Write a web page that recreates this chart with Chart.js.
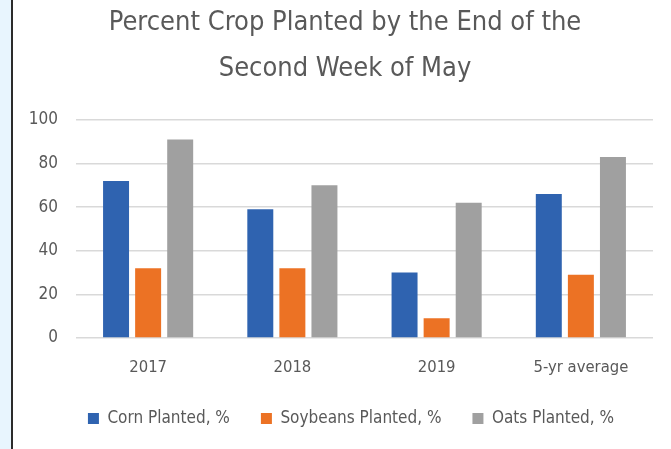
<!DOCTYPE html>
<html>
<head>
<meta charset="utf-8">
<script src="https://cdn.jsdelivr.net/npm/chart.js@4"></script>
<style>
  html, body { margin: 0; padding: 0; }
  body { width: 671px; height: 449px; overflow: hidden; background: #e8f5fe; position: relative; }
  .frame { position: absolute; left: 11px; top: 0; width: 660px; height: 449px; background: #fff; border-left: 2px solid #2b2b2b; box-sizing: border-box; }
  .frame canvas { position: absolute; left: 0; top: 0; }
</style>
</head>
<body>
<div class="frame"><canvas id="chart" width="658" height="449"></canvas></div>
<script>
const categories = ['2017', '2018', '2019', '5-yr average'];
const seriesNames = ['Corn Planted, %', 'Soybeans Planted, %', 'Oats Planted, %'];
const corn = [72, 59, 30, 66];
const soybeans = [32, 32, 9, 29];
const oats = [91, 70, 62, 83];
const yTicks = [0, 20, 40, 60, 80, 100];
const titleLines = ['Percent Crop Planted by the End of the', 'Second Week of May'];

// narrowest installed face, close to the Calibri look of the original
const font = "'DejaVu Sans Condensed', sans-serif";
const textColor = '#595959';

// title and legend sit a bit right of the canvas centre in the original
const shiftBlocks = {
  id: 'shiftBlocks',
  afterLayout(chart) {
    [[chart.titleBlock, 12], [chart.legend, 18]].forEach(([box, dx]) => {
      if (box) { box.left += dx; box.right += dx; }
    });
  }
};

const ctx = document.getElementById('chart');
const chart = new Chart(ctx, {
  type: 'bar',
  data: {
    labels: categories,
    datasets: [
      { label: seriesNames[0], data: corn, backgroundColor: '#2f63b0' },
      { label: seriesNames[1], data: soybeans, backgroundColor: '#ec7224' },
      { label: seriesNames[2], data: oats, backgroundColor: '#a0a0a0' }
    ]
  },
  options: {
    responsive: false,
    animation: false,
    categoryPercentage: 0.667,
    barPercentage: 0.81,
    layout: { padding: { left: 0, right: 18, top: 0, bottom: 12 } },
    plugins: {
      title: {
        display: true,
        text: titleLines,
        color: textColor,
        font: { family: font, size: 27, weight: 'normal', lineHeight: 1.7 },
        padding: { top: 0, bottom: 28 }
      },
      legend: {
        position: 'bottom',
        labels: {
          color: textColor,
          font: { family: font, size: 17 },
          boxWidth: 11,
          boxHeight: 11,
          padding: 31
        }
      },
      tooltip: { enabled: false }
    },
    scales: {
      x: {
        grid: { display: false },
        border: { display: false },
        ticks: { color: textColor, font: { family: font, size: 16.5 }, padding: 12 },
        afterFit: scale => { scale.height = 41; }
      },
      y: {
        min: yTicks[0],
        max: yTicks[yTicks.length - 1],
        afterBuildTicks: scale => { scale.ticks = yTicks.map(v => ({ value: v })); },
        grid: { color: '#d9d9d9', lineWidth: 1.5, drawTicks: false },
        border: { display: false },
        ticks: { color: textColor, font: { family: font, size: 17 }, padding: 18 },
        afterFit: scale => { scale.width = 63; }
      }
    }
  },
  plugins: [shiftBlocks]
});
</script>
</body>
</html>
